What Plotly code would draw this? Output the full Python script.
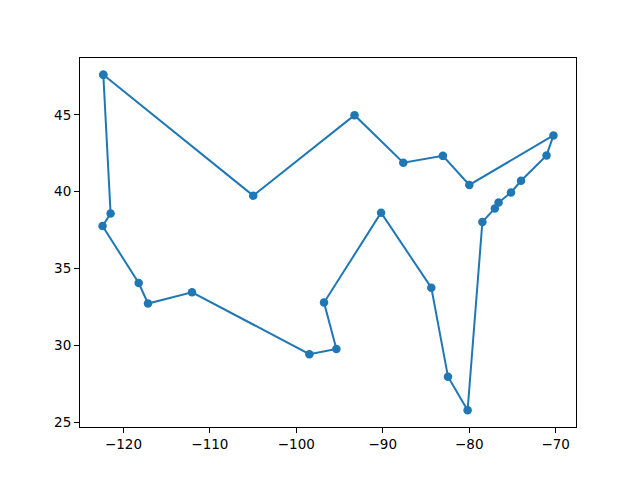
import plotly.graph_objects as go

lon = [-122.33, -104.99, -93.27, -87.63, -83.05, -79.99, -70.26, -71.06, -74.01,
       -75.17, -76.61, -77.04, -78.48, -80.19, -82.46, -84.39, -90.2, -96.8,
       -95.37, -98.49, -112.07, -117.16, -118.24, -122.42, -121.49, -122.33]
lat = [47.61, 39.74, 44.98, 41.88, 42.33, 40.44, 43.66, 42.36, 40.71,
       39.95, 39.29, 38.91, 38.03, 25.77, 27.95, 33.75, 38.63, 32.78,
       29.76, 29.42, 33.45, 32.72, 34.05, 37.77, 38.58, 47.61]

x_ticks = [-120, -110, -100, -90, -80, -70]
x_labels = ["−120", "−110", "−100", "−90", "−80", "−70"]
y_ticks = [25, 30, 35, 40, 45]
y_labels = ["25", "30", "35", "40", "45"]

fig = go.Figure(go.Scatter(
    x=lon, y=lat, mode="lines+markers",
    line=dict(color="#1f77b4", width=2),
    marker=dict(color="#1f77b4", size=8.5),
))

axis_common = dict(
    showgrid=False, zeroline=False, showline=True, mirror=True,
    linecolor="black", linewidth=1, ticks="outside", ticklen=5,
    tickwidth=1, tickcolor="black",
    tickfont=dict(family="DejaVu Sans", size=13.5, color="black"),
)
xmin, xmax = min(lon), max(lon)
ymin, ymax = min(lat), max(lat)
dx, dy = (xmax - xmin) * 0.05, (ymax - ymin) * 0.05
fig.update_xaxes(range=[xmin - dx, xmax + dx], tickvals=x_ticks, ticktext=x_labels, **axis_common)
fig.update_yaxes(range=[ymin - dy, ymax + dy], tickvals=y_ticks, ticktext=y_labels, **axis_common)

fig.update_layout(
    width=640, height=480,
    margin=dict(l=72, r=72, t=50, b=61),
    plot_bgcolor="white", paper_bgcolor="white",
    showlegend=False,
)
fig.write_html("out.html")
